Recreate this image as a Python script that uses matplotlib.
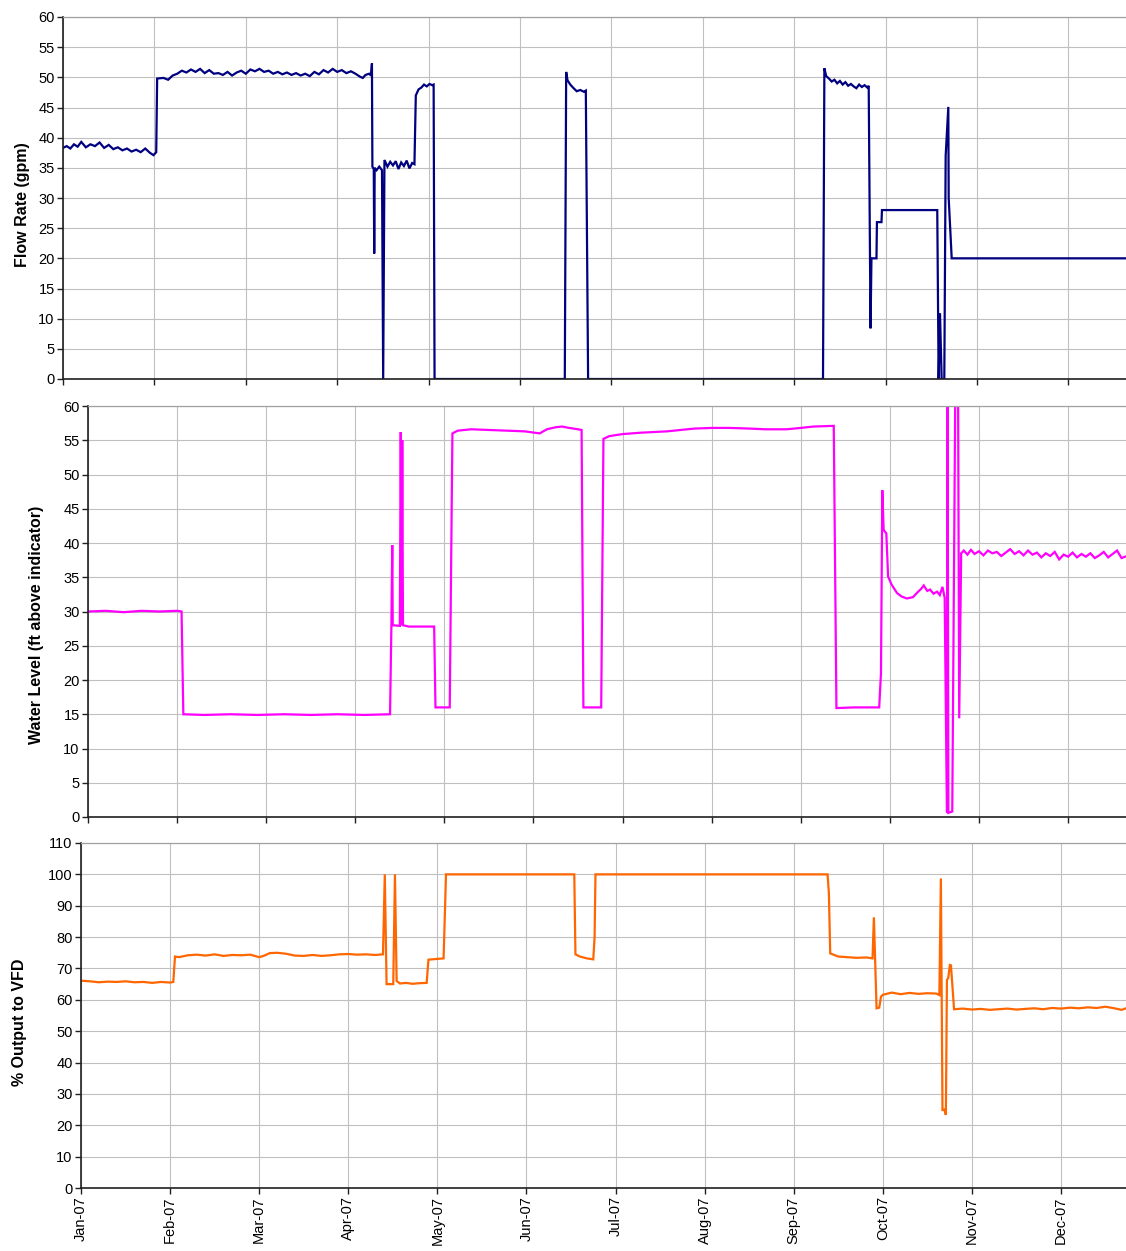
import matplotlib
matplotlib.use('Agg')
import matplotlib.pyplot as plt

plt.rcParams['font.family'] = ['Liberation Sans', 'DejaVu Sans']

# ==========================================
# 1. DATA (x = months since Jan 1, 2007)
# ==========================================
month_labels = ['Jan-07', 'Feb-07', 'Mar-07', 'Apr-07', 'May-07', 'Jun-07',
                'Jul-07', 'Aug-07', 'Sep-07', 'Oct-07', 'Nov-07', 'Dec-07']

flow_t = [0.00, 0.04, 0.08, 0.12, 0.16, 0.20, 0.25, 0.30, 0.35, 0.40, 0.45, 0.50,
          0.55, 0.60, 0.65, 0.70, 0.75, 0.80, 0.85, 0.90, 0.95, 0.99, 1.02, 1.03,
          1.10, 1.15, 1.20, 1.25, 1.30, 1.35, 1.40, 1.45, 1.50, 1.55, 1.60, 1.65,
          1.70, 1.75, 1.80, 1.85, 1.90, 1.95, 2.00, 2.05, 2.10, 2.15, 2.20, 2.25,
          2.30, 2.35, 2.40, 2.45, 2.50, 2.55, 2.60, 2.65, 2.70, 2.75, 2.80, 2.85,
          2.90, 2.95, 3.00, 3.05, 3.10, 3.15, 3.20, 3.25, 3.28, 3.31, 3.35, 3.37,
          3.38, 3.385, 3.40, 3.405, 3.41, 3.43, 3.46, 3.49, 3.503, 3.517, 3.55, 3.58,
          3.61, 3.64, 3.67, 3.70, 3.73, 3.76, 3.79, 3.82, 3.845, 3.86, 3.89, 3.92,
          3.95, 3.98, 4.01, 4.04, 4.055, 4.065, 5.49, 5.505, 5.52, 5.55, 5.58, 5.62,
          5.66, 5.70, 5.72, 5.745, 8.315, 8.33, 8.35, 8.38, 8.41, 8.44, 8.47, 8.50,
          8.53, 8.56, 8.59, 8.62, 8.65, 8.68, 8.71, 8.74, 8.77, 8.80, 8.815, 8.835,
          8.845, 8.90, 8.905, 8.955, 8.96, 9.565, 9.58, 9.595, 9.613, 9.642, 9.657,
          9.686, 9.69, 9.723, 11.70]
flow_v = [38.3, 38.6, 38.2, 38.9, 38.5, 39.3, 38.4, 38.9, 38.6, 39.2, 38.3, 38.8,
          38.1, 38.4, 37.9, 38.2, 37.7, 38.0, 37.6, 38.2, 37.5, 37.1, 37.6, 49.8,
          49.9, 49.6, 50.3, 50.6, 51.1, 50.8, 51.3, 50.9, 51.4, 50.7, 51.2, 50.6,
          50.7, 50.4, 50.9, 50.3, 50.8, 51.1, 50.6, 51.3, 51.0, 51.4, 50.9, 51.1,
          50.6, 50.9, 50.5, 50.8, 50.4, 50.7, 50.3, 50.6, 50.2, 50.9, 50.5, 51.2,
          50.8, 51.4, 50.9, 51.2, 50.7, 51.0, 50.6, 50.1, 49.9, 50.4, 50.6, 50.3,
          52.3, 35.2, 34.8, 20.8, 35.0, 34.6, 35.2, 34.6, 0.0, 36.3, 35.2, 36.0,
          35.4, 36.1, 34.8, 35.9, 35.3, 36.2, 34.9, 35.8, 35.6, 47.0, 48.0, 48.3,
          48.8, 48.5, 48.9, 48.7, 48.8, 0.0, 0.0, 50.9, 49.5, 48.8, 48.3, 47.7,
          47.9, 47.6, 47.8, 0.0, 0.0, 51.5, 50.2, 49.8, 49.3, 49.6, 49.0, 49.4,
          48.8, 49.2, 48.6, 48.9, 48.5, 48.2, 48.8, 48.4, 48.7, 48.3, 48.6, 8.4,
          20.0, 20.0, 26.0, 26.0, 28.0, 28.0, 0.0, 10.9, 0.0, 0.0, 37.0,
          45.1, 30.0, 20.0, 20.0]

level_t = [0.00, 0.20, 0.40, 0.60, 0.80, 1.00, 1.05, 1.07, 1.30, 1.60, 1.90, 2.20,
           2.50, 2.80, 3.10, 3.39, 3.405, 3.415, 3.42, 3.50, 3.51, 3.52, 3.527, 3.535,
           3.60, 3.75, 3.885, 3.90, 4.06, 4.09, 4.15, 4.30, 4.50, 4.70, 4.90, 5.07,
           5.15, 5.25, 5.32, 5.40, 5.50, 5.54, 5.56, 5.76, 5.785, 5.85, 6.00, 6.20,
           6.50, 6.80, 7.00, 7.20, 7.43, 7.60, 7.84, 8.00, 8.14, 8.37, 8.40, 8.60,
           8.88, 8.90, 8.915, 8.93, 8.96, 8.98, 9.02, 9.08, 9.13, 9.19, 9.26, 9.31,
           9.35, 9.38, 9.42, 9.45, 9.49, 9.53, 9.56, 9.59, 9.615, 9.64, 9.648, 9.656,
           9.70, 9.735, 9.765, 9.778, 9.80, 9.83, 9.87, 9.91, 9.95, 10.00, 10.05, 10.10,
           10.15, 10.20, 10.25, 10.30, 10.35, 10.40, 10.45, 10.50, 10.55, 10.60, 10.65,
           10.70, 10.75, 10.80, 10.85, 10.90, 10.95, 11.00, 11.05, 11.10, 11.15, 11.20,
           11.25, 11.30, 11.35, 11.40, 11.45, 11.50, 11.55, 11.60, 11.70]
level_v = [30.0, 30.1, 29.9, 30.1, 30.0, 30.1, 30.0, 15.0, 14.9, 15.0, 14.9, 15.0,
           14.9, 15.0, 14.9, 15.0, 27.8, 39.7, 28.0, 27.9, 56.2, 28.0, 55.0, 28.0,
           27.8, 27.8, 27.8, 16.0, 16.0, 56.0, 56.4, 56.6, 56.5, 56.4, 56.3, 56.0,
           56.6, 56.9, 57.0, 56.8, 56.6, 56.5, 16.0, 16.0, 55.2, 55.6, 55.9, 56.1,
           56.3, 56.7, 56.8, 56.8, 56.7, 56.6, 56.6, 56.8, 57.0, 57.1, 15.9, 16.0,
           16.0, 21.0, 47.7, 41.9, 41.4, 35.1, 33.9, 32.7, 32.2, 31.9, 32.1, 32.8,
           33.3, 33.8, 33.0, 33.2, 32.6, 32.9, 32.4, 33.6, 32.0, 0.6, 64.0, 0.6,
           0.8, 64.0, 64.0, 14.4, 38.5, 38.9, 38.3, 39.0, 38.4, 38.8, 38.2, 38.9,
           38.5, 38.7, 38.1, 38.6, 39.1, 38.4, 38.8, 38.2, 38.9, 38.3, 38.6,
           37.9, 38.5, 38.1, 38.7, 37.6, 38.3, 38.0, 38.6, 37.9, 38.4, 38.0,
           38.5, 37.8, 38.2, 38.7, 37.9, 38.4, 38.9, 37.8, 38.3]

vfd_t = [0.00, 0.10, 0.20, 0.30, 0.40, 0.50, 0.60, 0.70, 0.80, 0.90, 1.00, 1.036,
         1.055, 1.10, 1.20, 1.30, 1.40, 1.50, 1.60, 1.70, 1.80, 1.90, 2.00, 2.05,
         2.12, 2.20, 2.30, 2.40, 2.50, 2.60, 2.70, 2.80, 2.90, 3.00, 3.10, 3.20,
         3.30, 3.39, 3.41, 3.43, 3.505, 3.524, 3.543, 3.58, 3.65, 3.72, 3.80, 3.88,
         3.90, 3.98, 4.07, 4.097, 5.537, 5.55, 5.60, 5.68, 5.75, 5.765, 5.775, 8.38,
         8.395, 8.41, 8.50, 8.60, 8.70, 8.82, 8.885, 8.90, 8.93, 8.96, 8.98, 9.00,
         9.10, 9.20, 9.30, 9.40, 9.50, 9.60, 9.635, 9.652, 9.67, 9.69, 9.708, 9.72,
         9.735, 9.753, 9.765, 9.80, 9.90, 10.00, 10.10, 10.20, 10.30, 10.40, 10.50,
         10.60, 10.70, 10.80, 10.90, 11.00, 11.10, 11.20, 11.30, 11.40, 11.50, 11.60,
         11.68, 11.75]
vfd_v = [66.1, 65.9, 65.6, 65.8, 65.7, 65.9, 65.6, 65.7, 65.4, 65.7, 65.5, 65.7,
         73.8, 73.6, 74.2, 74.4, 74.1, 74.5, 74.0, 74.3, 74.2, 74.4, 73.6, 74.0,
         74.9, 75.0, 74.7, 74.1, 74.0, 74.3, 74.0, 74.2, 74.5, 74.6, 74.4, 74.5,
         74.3, 74.5, 100.0, 65.0, 65.0, 100.0, 66.0, 65.2, 65.4, 65.1, 65.3, 65.4,
         72.8, 73.0, 73.2, 100.0, 100.0, 74.5, 73.8, 73.2, 72.9, 80.0, 100.0, 100.0,
         94.0, 74.8, 73.8, 73.6, 73.4, 73.5, 73.2, 86.3, 57.3, 57.5, 61.0, 61.6,
         62.3, 61.8, 62.2, 61.9, 62.1, 62.0, 61.5, 98.7, 24.9, 25.0, 23.3, 66.3,
         67.0, 71.1, 71.0, 57.0, 57.2, 56.9, 57.1, 56.8, 57.0, 57.2, 56.9,
         57.1, 57.3, 57.0, 57.4, 57.2, 57.5, 57.3, 57.6, 57.4, 57.8, 57.3,
         56.8, 57.5]

# ==========================================
# 2. FIGURE
# ==========================================
fig = plt.figure(figsize=(11.26, 12.51), dpi=100)

W, H = 1126, 1251


def make_axes(left, top, bottom, right=1126):
    return fig.add_axes([left / W, (H - bottom) / H, (right - left) / W, (bottom - top) / H])


ax1 = make_axes(63, 17, 379)
ax2 = make_axes(88, 406, 817)
ax3 = make_axes(81, 843, 1188)

panels = [
    (ax1, flow_t, flow_v, '#000080', 60, 5, 11.63),
    (ax2, level_t, level_v, '#FF00FF', 60, 5, 11.65),
    (ax3, vfd_t, vfd_v, '#FF6600', 110, 10, 11.73),
]

for ax, t, v, color, ymax, ystep, xmax in panels:
    ax.plot(t, v, color=color, lw=1.6, solid_joinstyle='miter')
    ax.set_xlim(0, xmax)
    ax.set_ylim(0, ymax)
    ax.set_yticks(range(0, ymax + 1, ystep))
    ax.set_xticks(range(12))
    ax.grid(True, color='#C0C0C0', lw=0.8)
    ax.set_axisbelow(True)
    ax.spines['right'].set_visible(False)
    ax.spines['top'].set_color('#A0A0A0')
    ax.spines['top'].set_linewidth(0.9)
    for side in ['left', 'bottom']:
        ax.spines[side].set_color('#202020')
        ax.spines[side].set_linewidth(1.2)
    ax.tick_params(axis='both', direction='out', length=4, width=1, color='#202020',
                   labelsize=10.5, pad=2)
    ax.tick_params(axis='x', labelbottom=False)

ax3.tick_params(axis='x', labelbottom=True)
ax3.set_xticklabels(month_labels, rotation=90, fontsize=10.5)

fig.text(22 / W, (H - 205) / H, 'Flow Rate (gpm)', rotation=90, ha='center', va='center',
         fontsize=11.5, fontweight='bold')
fig.text(37 / W, (H - 625) / H, 'Water Level (ft above indicator)', rotation=90,
         ha='center', va='center', fontsize=11.5, fontweight='bold')
fig.text(20 / W, (H - 1022) / H, '% Output to VFD', rotation=90, ha='center', va='center',
         fontsize=11.5, fontweight='bold')

plt.savefig('out.png', dpi=100)
